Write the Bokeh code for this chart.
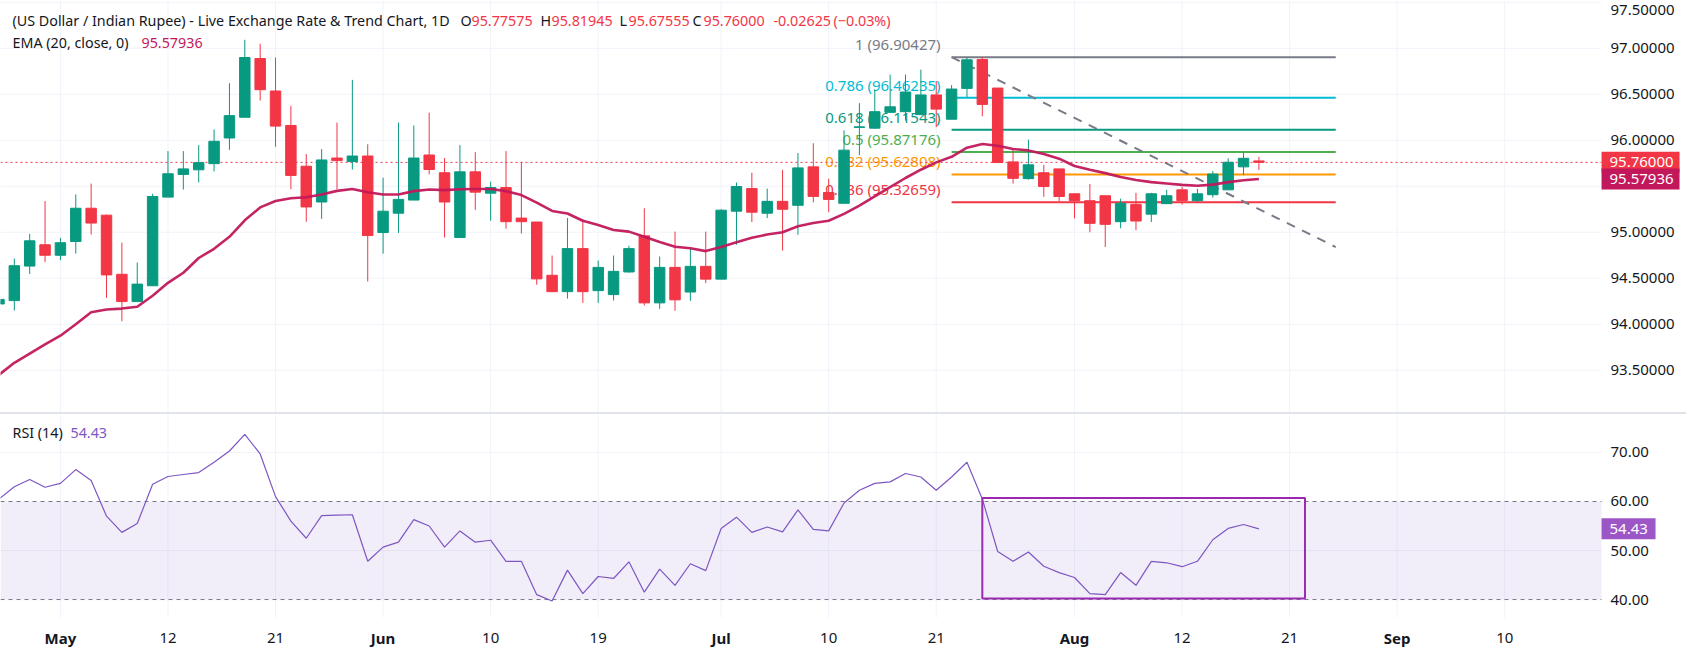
from bokeh.plotting import figure
from bokeh.layouts import column
from bokeh.models import Range1d, BoxAnnotation, Label, Div
from bokeh.core.properties import value
from bokeh.embed import file_html
from bokeh.resources import INLINE

FONT = "Noto Sans"
TXT = "#131722"
UP = "#089981"
DOWN = "#f23645"
EMA_COLOR = "#c2185b"
RSI_COLOR = "#7e57c2"
RSI_TAG = "#9c56c6"
GRID = "#f0f3fa"

# bar index: 0 = 1 May, one bar per trading day
bar_idx = list(range(-4, 79))

opens = [94.220, 94.257, 94.632, 94.864, 94.750, 94.900, 95.261, 95.186, 94.543, 94.246,
         94.418, 95.382, 95.629, 95.679, 95.746, 96.025, 96.250, 96.889, 96.536, 96.161,
         95.718, 95.329, 95.807, 95.768, 95.829, 94.997, 95.207, 95.350, 95.840, 95.647,
         94.943, 95.657, 95.425, 95.486, 95.154, 95.111, 94.532, 94.354, 94.822, 94.365,
         94.322, 94.568, 94.961, 94.232, 94.618, 94.350, 94.629, 94.490, 95.229, 95.475,
         95.207, 95.336, 95.293, 95.711, 95.432, 95.315, 96.140, 96.132, 96.304, 96.311,
         96.279, 96.493, 96.229, 96.564, 96.879, 96.568, 95.765, 95.583, 95.647, 95.689,
         95.418, 95.343, 95.397, 95.115, 95.304, 95.197, 95.311, 95.461, 95.343, 95.408,
         95.461, 95.711, 95.77575]
highs = [94.300, 94.714, 94.982, 95.339, 94.939, 95.411, 95.529, 95.190, 94.886, 94.671,
         95.418, 95.882, 95.882, 95.946, 96.118, 96.621, 97.093, 97.050, 96.900, 96.375,
         95.850, 95.904, 96.193, 96.657, 95.957, 95.593, 96.193, 96.161, 96.300, 95.807,
         95.947, 95.871, 95.550, 95.882, 95.765, 95.111, 94.747, 95.154, 95.143, 94.693,
         94.747, 94.854, 95.261, 94.736, 95.007, 94.822, 95.007, 95.250, 95.540, 95.647,
         95.475, 95.679, 95.861, 95.968, 95.582, 96.108, 96.404, 96.554, 96.714, 96.714,
         96.768, 96.643, 96.600, 96.904, 96.904, 96.568, 95.911, 96.007, 95.733, 95.689,
         95.418, 95.525, 95.397, 95.365, 95.429, 95.429, 95.461, 95.493, 95.472, 95.665,
         95.804, 95.869, 95.81945]
lows = [94.150, 94.150, 94.546, 94.675, 94.696, 94.768, 94.975, 94.286, 94.032, 94.246,
        94.418, 95.382, 95.464, 95.543, 95.661, 95.896, 96.250, 96.432, 95.929, 95.468,
        95.114, 95.146, 95.468, 95.682, 94.464, 94.768, 94.993, 95.350, 95.629, 94.943,
        94.943, 95.243, 95.125, 95.039, 94.986, 94.429, 94.354, 94.279, 94.232, 94.232,
        94.258, 94.561, 94.204, 94.168, 94.146, 94.254, 94.447, 94.490, 94.865, 95.111,
        95.154, 94.800, 94.972, 95.325, 95.218, 95.315, 95.839, 96.125, 96.300, 96.214,
        96.279, 96.143, 96.229, 96.471, 96.261, 95.758, 95.529, 95.572, 95.386, 95.336,
        95.151, 95.000, 94.840, 95.043, 95.022, 95.111, 95.311, 95.301, 95.322, 95.376,
        95.461, 95.622, 95.67555]
closes = [94.270, 94.636, 94.907, 94.750, 94.886, 95.261, 95.100, 94.536, 94.246, 94.436,
          95.389, 95.636, 95.689, 95.757, 95.989, 96.268, 96.900, 96.550, 96.154, 95.618,
          95.275, 95.786, 95.779, 95.829, 94.964, 95.229, 95.357, 95.807, 95.682, 95.329,
          95.657, 95.436, 95.486, 95.115, 95.115, 94.493, 94.354, 94.822, 94.354, 94.618,
          94.575, 94.822, 94.232, 94.618, 94.265, 94.629, 94.490, 95.240, 95.497, 95.218,
          95.336, 95.250, 95.700, 95.390, 95.357, 95.893, 96.146, 96.311, 96.364, 96.525,
          96.493, 96.339, 96.557, 96.875, 96.390, 95.758, 95.586, 95.733, 95.497, 95.389,
          95.343, 95.097, 95.086, 95.315, 95.122, 95.418, 95.397, 95.343, 95.418, 95.633,
          95.761, 95.804, 95.760]
ema20 = [93.450, 93.580, 93.680, 93.780, 93.875, 94.000, 94.130, 94.160, 94.170, 94.190,
         94.310, 94.450, 94.560, 94.720, 94.820, 94.950, 95.130, 95.270, 95.340, 95.370,
         95.380, 95.410, 95.450, 95.470, 95.435, 95.410, 95.410, 95.447, 95.465, 95.458,
         95.468, 95.470, 95.470, 95.447, 95.404, 95.322, 95.232, 95.204, 95.125, 95.079,
         95.025, 95.007, 94.950, 94.895, 94.843, 94.826, 94.795, 94.840, 94.890, 94.940,
         94.975, 95.000, 95.065, 95.100, 95.125, 95.200, 95.290, 95.390, 95.490, 95.590,
         95.680, 95.760, 95.820, 95.920, 95.960, 95.940, 95.905, 95.890, 95.850, 95.800,
         95.720, 95.680, 95.643, 95.600, 95.568, 95.545, 95.530, 95.515, 95.505, 95.518,
         95.545, 95.565, 95.57936]
rsi14 = [60.5, 63.0, 64.5, 62.9, 63.7, 66.5, 64.3, 57.0, 53.7, 55.5,
         63.5, 65.1, 65.5, 65.9, 68.0, 70.3, 73.7, 69.7, 61.0, 56.0,
         52.5, 57.1, 57.2, 57.3, 47.8, 50.7, 51.7, 56.3, 55.0, 50.7,
         54.0, 51.7, 52.1, 47.8, 47.8, 41.0, 39.7, 46.0, 41.2, 44.7,
         44.3, 47.7, 41.5, 46.2, 42.9, 47.3, 45.9, 54.5, 56.8, 53.7,
         54.8, 53.8, 58.3, 54.3, 54.0, 59.7, 62.3, 63.7, 64.0, 65.7,
         65.0, 62.3, 65.0, 68.0, 60.5, 49.8, 47.8, 49.7, 46.8, 45.5,
         44.5, 41.2, 41.0, 45.5, 42.9, 47.8, 47.5, 46.7, 47.8, 52.2,
         54.5, 55.3, 54.43]

date_ticks = [0, 7, 14, 21, 28, 35, 43, 50, 57, 66, 73, 80, 87, 94]
date_labels = ["May", "12", "21", "Jun", "10", "19", "Jul", "10", "21", "Aug", "12", "21", "Sep", "10"]
price_ticks = [93.5, 94.0, 94.5, 95.0, 95.5, 96.0, 96.5, 97.0, 97.5]
rsi_ticks = [40, 50, 60, 70]
rsi_grid = [50, 70]
rsi_band = [40, 60]

# Fibonacci retracement drawn from bar 58 to bar 83
fib_ratios = ["1", "0.786", "0.618", "0.5", "0.382", "0.236"]
fib_prices = [96.90427, 96.46235, 96.11543, 95.87176, 95.62808, 95.32659]
fib_colors = ["#787b86", "#00bcd4", "#089981", "#4caf50", "#ff9800", "#f23645"]
fib_x = [58, 83]
fib_trend = [96.90427, 94.83922]

rsi_box_x = [60, 81]
rsi_box_y = [40.2, 60.7]

last_open, last_high, last_low, last_close = 95.77575, 95.81945, 95.67555, 95.76000
last_change, last_pct = -0.02625, -0.03
ema_last = 95.57936
rsi_last = 54.43

W = 1686
X0, X_AXIS, X1 = -3.9, 100.3, 105.83   # left edge, start of price scale, right edge
px_bar = W / (X1 - X0)
x_range = Range1d(X0, X1)


def base(p):
    p.xaxis.visible = False
    p.yaxis.visible = False
    p.ygrid.grid_line_color = None
    p.xgrid.grid_line_color = None
    p.outline_line_color = None


def scale_labels(p, ticks, fmt, hide_near, px_unit, top):
    # tick labels of the price scale; labels hidden behind a tag are skipped like TradingView
    shown = [t for t in ticks if all(abs(t - h) * px_unit > 17 for h in hide_near)]
    offs = [max(0, 9 - (top - t) * px_unit) for t in shown]
    p.text(x=[X_AXIS] * len(shown), y=shown, text=[fmt % t for t in shown], text_color=TXT,
           text_font=value(FONT), text_font_size="15px", text_baseline="middle", x_offset=9,
           y_offset=offs)


def tag(p, y, text, color, w):
    p.rect(x=[X_AXIS + w / 2 / px_bar], y=[y], width=w, height=21, width_units="screen",
           height_units="screen", fill_color=color, line_color=None)
    p.text(x=[X_AXIS], y=[y], text=[text], text_color="white", text_font=value(FONT),
           text_font_size="15px", text_baseline="middle", x_offset=8)


# ---------------- price panel ----------------
P0, P1 = 93.04, 97.52
PH = 412
p = figure(width=W, height=PH, x_range=x_range, y_range=Range1d(P0, P1),
           output_backend="svg", toolbar_location=None, tools="",
           min_border_left=0, min_border_right=0, min_border_top=0, min_border_bottom=0)
base(p)
p.segment(x0=date_ticks, y0=P0, x1=date_ticks, y1=P1, line_color=GRID, line_width=1)
p.segment(x0=X0, y0=price_ticks, x1=X_AXIS, y1=price_ticks, line_color=GRID, line_width=1)

# fib labels first so the candles sit on top of them
for r, lv, c in zip(fib_ratios, fib_prices, fib_colors):
    p.text(x=[fib_x[0]], y=[lv], text=[f"{r} ({lv:.5f})"], text_color=c,
           text_font=value(FONT), text_font_size="15px", text_align="right",
           text_baseline="middle", x_offset=-11, y_offset=-13)
    p.line(fib_x, [lv, lv], line_color=c, line_width=2)
p.line(fib_x, fib_trend, line_color="#787b86", line_width=2, line_dash="9 8")

p.line([X0, X_AXIS], [last_close, last_close], line_color=DOWN, line_width=1, line_dash="2 3")

colors = [UP if c >= o else DOWN for o, c in zip(opens, closes)]
tops = [max(o, c) for o, c in zip(opens, closes)]
bots = [min(o, c) for o, c in zip(opens, closes)]
p.segment(x0=bar_idx, y0=lows, x1=bar_idx, y1=highs, line_color=colors, line_width=1)
p.vbar(x=bar_idx, width=0.68, top=tops, bottom=bots, fill_color=colors, line_color=colors,
       line_width=1)
p.line(bar_idx, ema20, line_color=EMA_COLOR, line_width=2.6, line_alpha=0.95)

scale_labels(p, price_ticks, "%.5f", [last_close, ema_last], PH / (P1 - P0), P1)
tag(p, last_close, f"{last_close:.5f}", DOWN, 78)
tag(p, ema_last, f"{ema_last:.5f}", EMA_COLOR, 78)

# legend text at top left
hdr = [("(US Dollar / Indian Rupee) - Live Exchange Rate & Trend Chart, 1D", TXT, 12),
       ("O", TXT, 460), (f"{last_open:.5f}", DOWN, 471),
       ("H", TXT, 540), (f"{last_high:.5f}", DOWN, 551),
       ("L", TXT, 619), (f"{last_low:.5f}", DOWN, 628),
       ("C", TXT, 692), (f"{last_close:.5f}", DOWN, 703),
       (f"{last_change:.5f}", DOWN, 773), (f"(\u2212{abs(last_pct):.2f}%)", DOWN, 833)]
for t, c, x in hdr:
    p.add_layout(Label(x=x, y=392, x_units="screen", y_units="screen", text=t,
                       text_color=c, text_font=FONT, text_font_size="14.3px",
                       text_baseline="middle"))
p.add_layout(Label(x=12, y=370, x_units="screen", y_units="screen", text="EMA (20, close, 0)",
                   text_color=TXT, text_font=FONT, text_font_size="14.3px",
                   text_baseline="middle"))
p.add_layout(Label(x=141, y=370, x_units="screen", y_units="screen", text=f"{ema_last:.5f}",
                   text_color=EMA_COLOR, text_font=FONT, text_font_size="14.3px",
                   text_baseline="middle"))

sep = Div(width=W, height=2, margin=0, styles={"background-color": "#e0e3eb"})

# ---------------- RSI panel (bottom 38 px hold the date labels) ----------------
R0, R1 = 36.34, 77.74
RH = 203
r_bottom = R0 - 38 * (R1 - R0) / RH
q = figure(width=W, height=RH + 38, x_range=x_range, y_range=Range1d(r_bottom, R1),
           output_backend="svg", toolbar_location=None, tools="",
           min_border_left=0, min_border_right=0, min_border_top=0, min_border_bottom=0)
base(q)
q.segment(x0=date_ticks, y0=R0, x1=date_ticks, y1=R1, line_color=GRID, line_width=1)
q.segment(x0=X0, y0=rsi_grid, x1=X_AXIS, y1=rsi_grid, line_color=GRID, line_width=1)
q.add_layout(BoxAnnotation(left=X0, right=X_AXIS, bottom=rsi_band[0], top=rsi_band[1],
                           fill_color=RSI_COLOR, fill_alpha=0.1, line_color=None))
q.segment(x0=X0, y0=rsi_band, x1=X_AXIS, y1=rsi_band, line_color="#787b86",
          line_width=1, line_dash="4 4")
q.line(bar_idx, rsi14, line_color=RSI_COLOR, line_width=1.2)
q.quad(left=[rsi_box_x[0]], right=[rsi_box_x[1]], bottom=[rsi_box_y[0]], top=[rsi_box_y[1]],
       fill_color=None, line_color="#9c27b0", line_width=2)

scale_labels(q, rsi_ticks, "%.2f", [rsi_last], RH / (R1 - R0), R1)
tag(q, rsi_last, f"{rsi_last:.2f}", RSI_TAG, 54)

# date labels: month names bold, day numbers regular
q.text(x=date_ticks, y=[R0 - 20 * (R1 - R0) / RH] * len(date_ticks), text=date_labels,
       text_color=TXT, text_font=value(FONT), text_font_size="15px", text_align="center",
       text_baseline="middle",
       text_font_style=["bold" if s.isalpha() else "normal" for s in date_labels])

q.add_layout(Label(x=12, y=74.0, x_units="screen", y_units="data", text="RSI (14)",
                   text_color=TXT, text_font=FONT, text_font_size="14.3px",
                   text_baseline="middle"))
q.add_layout(Label(x=70, y=74.0, x_units="screen", y_units="data", text=f"{rsi_last:.2f}",
                   text_color=RSI_COLOR, text_font=FONT, text_font_size="14.3px",
                   text_baseline="middle"))

layout = column(p, sep, q, spacing=0)
open("out.html", "w").write(file_html(layout, INLINE))
